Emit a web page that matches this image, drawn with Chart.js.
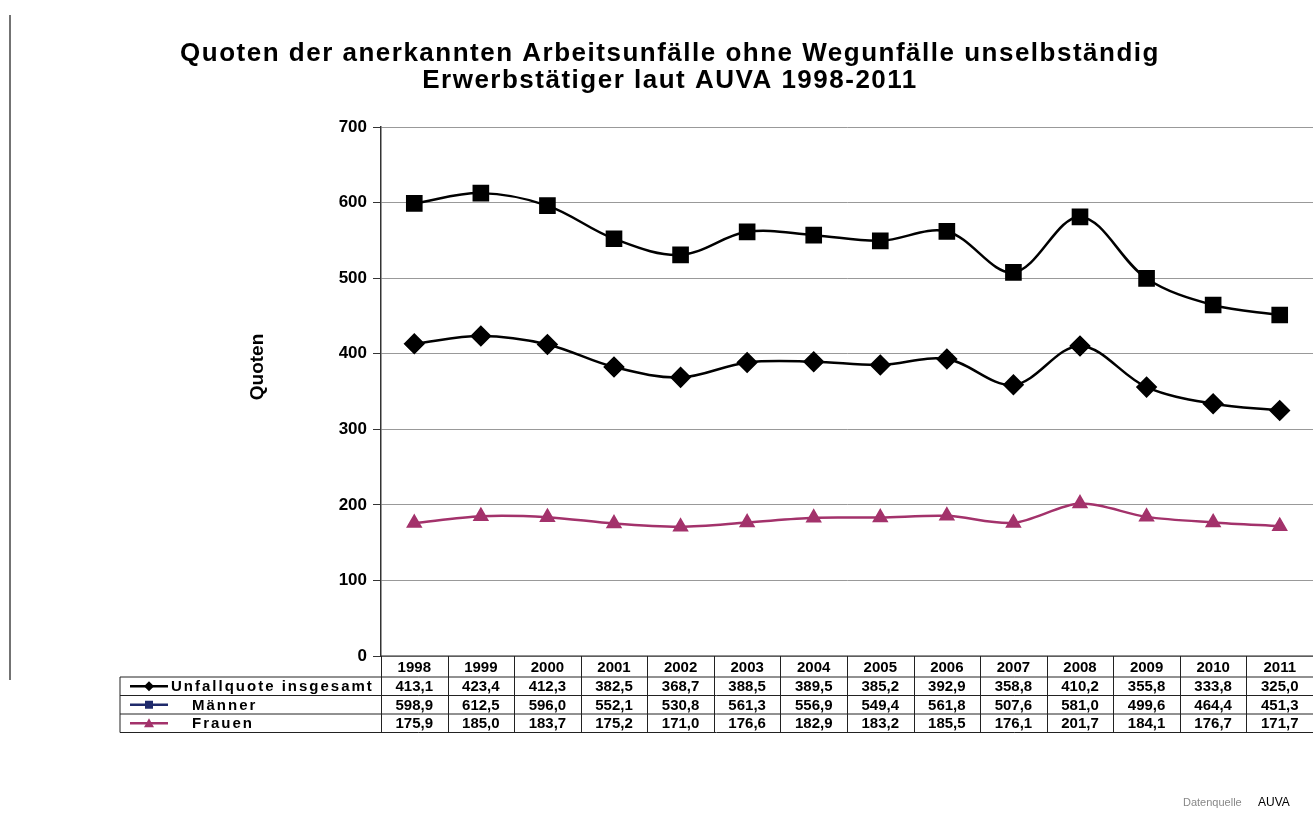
<!DOCTYPE html>
<html>
<head>
<meta charset="utf-8">
<script src="https://cdn.jsdelivr.net/npm/chart.js@4.4.1/dist/chart.umd.min.js"></script>
<style>
  html,body{margin:0;background:#fff;overflow:hidden;}
  #box{width:1313px;height:822px;position:relative;}
  canvas{display:block;}
</style>
</head>
<body>
<div id="box"><canvas id="grafico"></canvas></div>
<script>
const jahre=['1998','1999','2000','2001','2002','2003','2004','2005','2006','2007','2008','2009','2010','2011'];
const insgesamt=[413.1,423.4,412.3,382.5,368.7,388.5,389.5,385.2,392.9,358.8,410.2,355.8,333.8,325.0];
const maenner=[598.9,612.5,596.0,552.1,530.8,561.3,556.9,549.4,561.8,507.6,581.0,499.6,464.4,451.3];
const frauen=[175.9,185.0,183.7,175.2,171.0,176.6,182.9,183.2,185.5,176.1,201.7,184.1,176.7,171.7];
const yTicks=[0,100,200,300,400,500,600,700];
const titel=['Quoten der anerkannten Arbeitsunfälle ohne Wegunfälle unselbständig','Erwerbstätiger laut AUVA 1998-2011'];

const schrift='"Liberation Sans", Arial, sans-serif';
const farbeFrauen='#a3326b';

function fmt(v){ return v.toFixed(1).replace('.',','); }

// Titel, Achsentitel, Datentabelle unter dem Diagramm + Rahmenlinie links
const tabelle={
  id:'tabelle',
  beforeDraw(chart){
    const ctx=chart.ctx;
    ctx.save();
    ctx.strokeStyle='#444';ctx.lineWidth=1.5;
    ctx.beginPath();ctx.moveTo(10,15);ctx.lineTo(10,680);ctx.stroke();
    ctx.restore();
  },
  afterDraw(chart){
    const ctx=chart.ctx, x=chart.scales.x, a=chart.chartArea;
    const breite=(a.right-a.left)/jahre.length;
    const oben=a.bottom, r1=oben+21, zeile=18.5, links=120;
    const unten=r1+3*zeile;
    ctx.save();

    // Titel
    ctx.fillStyle='#000';ctx.textAlign='center';ctx.textBaseline='middle';
    ctx.font='bold 26px '+schrift;ctx.letterSpacing='1.5px';
    ctx.fillText(titel[0],670,54);
    ctx.fillText(titel[1],670,81);
    ctx.letterSpacing='0px';

    // y-Achsentitel
    ctx.save();
    ctx.translate(258,367);ctx.rotate(-Math.PI/2);
    ctx.font='bold 19px '+schrift;ctx.fillText('Quoten',0,0);
    ctx.restore();

    ctx.strokeStyle='#222';ctx.lineWidth=1;
    function linie(x1,y1,x2,y2){ctx.beginPath();ctx.moveTo(x1,y1);ctx.lineTo(x2,y2);ctx.stroke();}
    linie(a.left,oben,a.right,oben);
    for(let k=0;k<4;k++){ linie(links,r1+k*zeile,a.right,r1+k*zeile); }
    linie(links,r1,links,unten);
    for(let i=0;i<=jahre.length;i++){ const xx=Math.round(a.left+i*breite)+0.5; linie(xx,oben,xx,unten); }

    ctx.fillStyle='#000';ctx.textAlign='center';ctx.textBaseline='middle';
    ctx.font='bold 15px '+schrift;
    jahre.forEach((j,i)=>ctx.fillText(j,x.getPixelForValue(i),(oben+r1)/2+1));
    chart.data.datasets.forEach((ds,k)=>{
      const ym=r1+k*zeile+zeile/2+1;
      ds.data.forEach((v,i)=>ctx.fillText(fmt(v),x.getPixelForValue(i),ym));
    });

    // Legende in der Tabelle
    const keys=[
      {label:'Unfallquote insgesamt',farbe:'#000',form:'raute',tx:171},
      {label:'Männer',farbe:'#1f2a6b',form:'quadrat',tx:192},
      {label:'Frauen',farbe:farbeFrauen,form:'dreieck',tx:192}
    ];
    keys.forEach((kk,k)=>{
      const ym=r1+k*zeile+zeile/2;
      ctx.strokeStyle=kk.farbe;ctx.fillStyle=kk.farbe;ctx.lineWidth=2.5;
      linie(130,ym,168,ym);
      ctx.beginPath();
      if(kk.form==='raute'){ctx.moveTo(149,ym-5);ctx.lineTo(154,ym);ctx.lineTo(149,ym+5);ctx.lineTo(144,ym);}
      else if(kk.form==='quadrat'){ctx.rect(145,ym-4,8,8);}
      else {ctx.moveTo(149,ym-5);ctx.lineTo(154,ym+4);ctx.lineTo(144,ym+4);}
      ctx.closePath();ctx.fill();
      ctx.fillStyle='#000';ctx.textAlign='left';ctx.font='bold 15px '+schrift;
      ctx.letterSpacing='2px';
      ctx.fillText(kk.label,kk.tx,ym+1);
      ctx.letterSpacing='0px';
    });

    ctx.font='11px '+schrift;ctx.textAlign='left';
    ctx.fillStyle='#888';ctx.fillText('Datenquelle',1183,803);
    ctx.fillStyle='#000';ctx.font='12px '+schrift;ctx.fillText('AUVA',1258,803);
    ctx.restore();
  }
};

const ctx=document.getElementById('grafico').getContext('2d');
new Chart(ctx,{
  type:'line',
  data:{
    labels:jahre,
    datasets:[
      {label:'Unfallquote insgesamt',data:insgesamt,borderColor:'#000',backgroundColor:'#000',borderWidth:2.5,
       pointStyle:'rectRot',pointRadius:9,tension:0.35},
      {label:'Männer',data:maenner,borderColor:'#000',backgroundColor:'#000',borderWidth:2.5,
       pointStyle:'rect',pointRadius:10,tension:0.35},
      {label:'Frauen',data:frauen,borderColor:farbeFrauen,backgroundColor:farbeFrauen,borderWidth:2.5,
       pointStyle:'triangle',pointRadius:7,tension:0.3}
    ]
  },
  options:{
    responsive:true,maintainAspectRatio:false,animation:false,
    layout:{autoPadding:false,padding:{left:26,right:0,top:127,bottom:166}},
    plugins:{
      legend:{display:false},
      tooltip:{enabled:false},
      title:{display:false}
    },
    scales:{
      x:{display:false,offset:true},
      y:{min:0,max:700,
        afterFit(s){s.width=355;},
        afterBuildTicks(s){s.ticks=yTicks.map(v=>({value:v}));},
        ticks:{color:'#000',font:{family:schrift,size:17,weight:'bold'},padding:6},
        grid:{color:'#999',lineWidth:1,tickLength:8,tickColor:'#333'},
        border:{color:'#333',width:1.5}
      }
    }
  },
  plugins:[tabelle]
});
</script>
</body>
</html>
